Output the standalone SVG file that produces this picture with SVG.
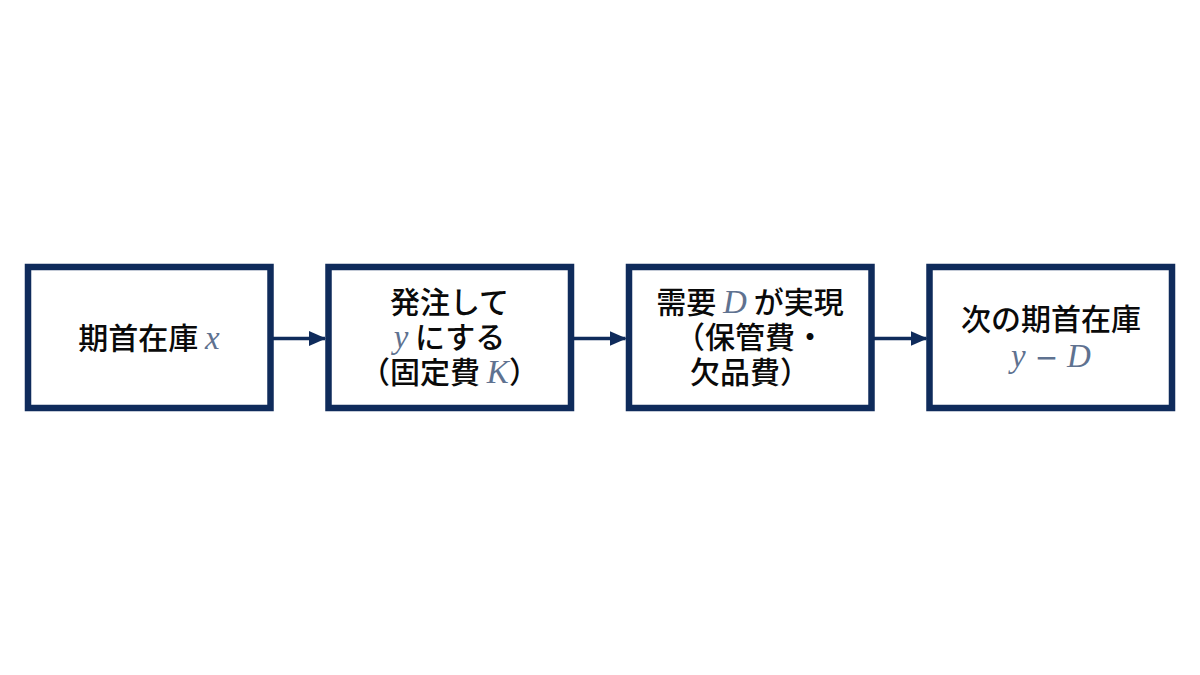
<svg xmlns="http://www.w3.org/2000/svg" width="1200" height="675" viewBox="0 0 1200 675">
  <style>
    .box { fill: #ffffff; stroke: #0f2b5b; stroke-width: 6.5; }
    .lbl { font-family: "Noto Sans CJK JP", "Noto Sans", sans-serif; font-size: 30px; font-weight: 500; fill: #0a0a0a; text-anchor: middle; }
    .m { font-family: "Liberation Serif", "DejaVu Serif", serif; font-style: italic; font-weight: normal; font-size: 33px; fill: #5f7290; }
    .op { font-family: "DejaVu Sans", sans-serif; font-style: normal; font-weight: normal; font-size: 28px; fill: #5f7290; }
    .conn { stroke: #0f2b5b; stroke-width: 3.5; fill: none; }
  </style>
  <defs>
    <marker id="arrow" markerUnits="userSpaceOnUse" markerWidth="17" markerHeight="15" refX="16" refY="7.5" orient="auto">
      <path d="M0,0 L17,7.5 L0,15 Z" fill="#0f2b5b"/>
    </marker>
  </defs>
  <rect width="1200" height="675" fill="#ffffff"/>

  <g id="connectors">
    <line class="conn" x1="273" y1="338.5" x2="325" y2="338.5" marker-end="url(#arrow)"/>
    <line class="conn" x1="573.5" y1="338.5" x2="625.5" y2="338.5" marker-end="url(#arrow)"/>
    <line class="conn" x1="874" y1="338.5" x2="926.5" y2="338.5" marker-end="url(#arrow)"/>
  </g>

  <g id="node1">
    <rect class="box" x="28" y="267" width="242.5" height="141"/>
    <text class="lbl" x="149" y="349" xml:space="preserve">期首在庫 <tspan class="m">x</tspan></text>
  </g>

  <g id="node2">
    <rect class="box" x="328.5" y="267" width="242.5" height="141"/>
    <text class="lbl"><tspan x="449.5" y="313">発注して</tspan><tspan x="449.5" y="348"><tspan class="m">y</tspan> にする</tspan><tspan x="449.5" y="383">（固定費 <tspan class="m">K</tspan>）</tspan></text>
  </g>

  <g id="node3">
    <rect class="box" x="629" y="267" width="242.5" height="141"/>
    <text class="lbl"><tspan x="750" y="313">需要 <tspan class="m">D</tspan> が実現</tspan><tspan x="750" y="348">（保管費・</tspan><tspan x="750" y="383">欠品費）</tspan></text>
  </g>

  <g id="node4">
    <rect class="box" x="929.5" y="267" width="242.5" height="141"/>
    <text class="lbl"><tspan x="1051" y="330">次の期首在庫</tspan><tspan x="1051" y="367"><tspan class="m">y</tspan><tspan class="op"> − </tspan><tspan class="m">D</tspan></tspan></text>
  </g>
</svg>
